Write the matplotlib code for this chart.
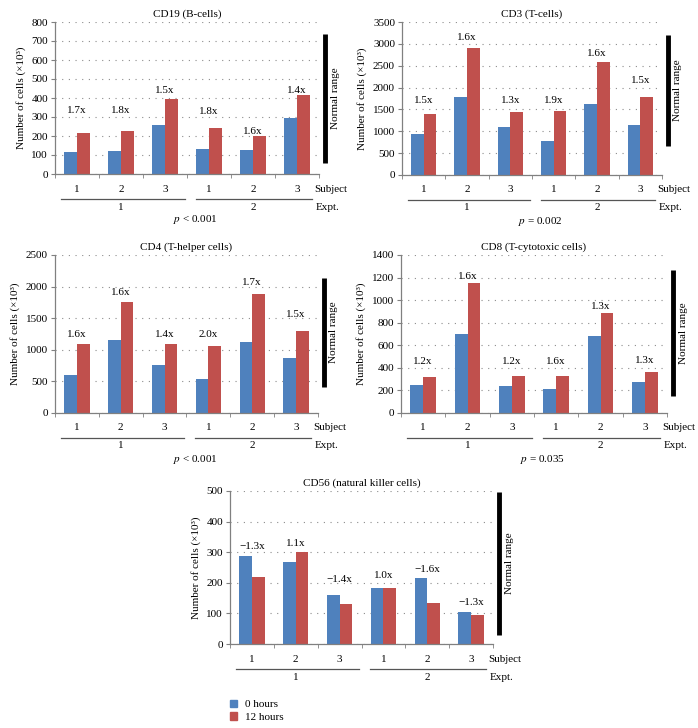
import numpy as np
import matplotlib
matplotlib.use("Agg")
import matplotlib.pyplot as plt
from matplotlib.patches import Patch
from matplotlib.transforms import offset_copy

plt.rcParams['font.family'] = ['Liberation Serif', 'DejaVu Serif']
plt.rcParams['mathtext.fontset'] = 'stix'
plt.rcParams['font.size'] = 8

# data (cells x10^3)
subjects = ['1', '2', '3', '1', '2', '3']
expts = ['1', '2']
series_names = ['0 hours', '12 hours']

cd19_0h = [116, 122, 256, 130, 126, 296]
cd19_12h = [217, 226, 397, 240, 198, 415]
cd19_fold = ['1.7x', '1.8x', '1.5x', '1.8x', '1.6x', '1.4x']
cd19_fold_y = [336, 336, 438, 327, 222, 441]
cd19_normal = [60, 735]

cd3_0h = [940, 1788, 1093, 772, 1635, 1154]
cd3_12h = [1391, 2896, 1444, 1460, 2575, 1780]
cd3_fold = ['1.5x', '1.6x', '1.3x', '1.9x', '1.6x', '1.5x']
cd3_fold_y = [1704, 3141, 1704, 1704, 2782, 2170]
cd3_normal = [660, 3200]

cd4_0h = [608, 1152, 756, 544, 1131, 867]
cd4_12h = [1099, 1749, 1099, 1068, 1876, 1305]
cd4_fold = ['1.6x', '1.6x', '1.4x', '2.0x', '1.7x', '1.5x']
cd4_fold_y = [1247, 1903, 1247, 1247, 2061, 1559]
cd4_normal = [410, 2140]

cd8_0h = [252, 696, 240, 210, 684, 278]
cd8_12h = [323, 1148, 331, 331, 888, 367]
cd8_fold = ['1.2x', '1.6x', '1.2x', '1.6x', '1.3x', '1.3x']
cd8_fold_y = [453, 1213, 453, 453, 947, 462]
cd8_normal = [150, 1265]

cd56_0h = [289, 269, 160, 182, 216, 106]
cd56_12h = [219, 300, 130, 182, 133, 94]
cd56_fold = ['\u22121.3x', '1.1x', '\u22121.4x', '1.0x', '\u22121.6x', '\u22121.3x']
cd56_fold_y = [319, 330, 211, 225, 244, 137]
cd56_normal = [30, 497]

W, H = 698, 728
blue = '#4F81BD'
red = '#C0504D'
axcol = '#808080'

fig = plt.figure(figsize=(W / 100, H / 100), dpi=100)


def px(ax, dx=0, dy=0, kind='x'):
    base = ax.get_xaxis_transform() if kind == 'x' else ax.get_yaxis_transform()
    return offset_copy(base, fig=fig, x=dx, y=dy, units='dots')


def panel(rect, title, v0, v12, fold, fold_y, ymax, ystep, normal, pval):
    l, r, t, b = rect
    ax = fig.add_axes([l / W, 1 - b / H, (r - l) / W, (b - t) / H])
    x = np.arange(len(subjects))
    w = 0.29
    ax.bar(x - w / 2, v0, w, color=blue, zorder=2)
    ax.bar(x + w / 2, v12, w, color=red, zorder=2)
    ax.set_xlim(-0.5, 5.5)
    ax.set_ylim(0, ymax)
    ax.set_yticks(np.arange(0, ymax + 1, ystep))
    ax.yaxis.grid(True, linestyle=(0, (1, 5)), color='#8c8c8c', lw=0.8)
    ax.set_axisbelow(True)
    for s in ['top', 'right']:
        ax.spines[s].set_visible(False)
    for s in ['left', 'bottom']:
        ax.spines[s].set_color(axcol)
        ax.spines[s].set_linewidth(0.9)
    ax.set_xticks([])
    ax.set_xticks(np.arange(-0.5, 6, 1), minor=True)
    ax.tick_params(axis='x', which='minor', length=3, color=axcol, direction='out')
    ax.tick_params(axis='y', length=3, color=axcol, pad=2, labelsize=8)
    ax.set_title(title, fontsize=8, pad=4)
    ax.set_ylabel('Number of cells (\u00d710\u00b3)', fontsize=8, labelpad=4)

    for i, s in enumerate(fold):
        ax.text(i, fold_y[i], s, ha='center', va='center', fontsize=8)

    # subject / experiment labels under the axis
    for i, s in enumerate(subjects):
        ax.text(i, 0, s, transform=px(ax, dy=-15), ha='center', va='center')
    ax.text(5.4, 0, 'Subject', transform=px(ax, dy=-15), ha='left', va='center')
    for (x0, x1) in [(-0.36, 2.45), (2.7, 5.35)]:
        ax.plot([x0, x1], [0, 0], color='#555555', lw=0.9,
                transform=px(ax, dy=-25), clip_on=False)
    for xc, s in zip([1.0, 4.0], expts):
        ax.text(xc, 0, s, transform=px(ax, dy=-33), ha='center', va='center')
    ax.text(5.43, 0, 'Expt.', transform=px(ax, dy=-33), ha='left', va='center')
    if pval:
        ax.text(2.7, 0, pval, transform=px(ax, dy=-46), ha='center', va='center')

    # normal range bar
    ax.plot([1, 1], normal, color='black', lw=3.5, solid_capstyle='butt',
            transform=px(ax, dx=6, kind='y'), clip_on=False)
    ax.text(1, np.mean(normal), 'Normal range', rotation=90, ha='center',
            va='center', transform=px(ax, dx=16, kind='y'))
    return ax


panel((55, 319, 22, 174), 'CD19 (B-cells)', cd19_0h, cd19_12h, cd19_fold,
      cd19_fold_y, 800, 100, cd19_normal, '$p$ < 0.001')
panel((402, 662, 22, 175), 'CD3 (T-cells)', cd3_0h, cd3_12h, cd3_fold,
      cd3_fold_y, 3500, 500, cd3_normal, '$p$ = 0.002')
panel((55, 318, 255, 413), 'CD4 (T-helper cells)', cd4_0h, cd4_12h, cd4_fold,
      cd4_fold_y, 2500, 500, cd4_normal, '$p$ < 0.001')
panel((401, 667, 255, 413), 'CD8 (T-cytotoxic cells)', cd8_0h, cd8_12h, cd8_fold,
      cd8_fold_y, 1400, 200, cd8_normal, '$p$ = 0.035')
panel((230, 493, 491, 644), 'CD56 (natural killer cells)', cd56_0h, cd56_12h, cd56_fold,
      cd56_fold_y, 500, 100, cd56_normal, None)

handles = [Patch(color=blue), Patch(color=red)]
fig.legend(handles, series_names, loc='upper left', bbox_to_anchor=(224 / W, 1 - 694 / H),
           frameon=False, handlelength=0.7, handleheight=0.7, handletextpad=0.7,
           labelspacing=0.25, borderpad=0, fontsize=8)

fig.savefig('out.png', dpi=100)
